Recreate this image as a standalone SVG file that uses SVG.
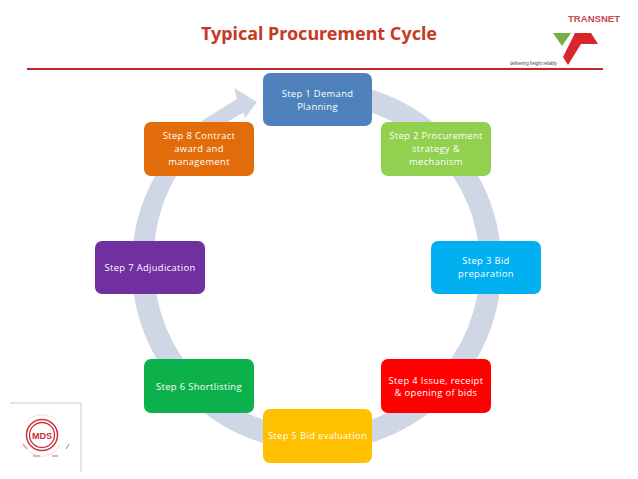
<svg xmlns="http://www.w3.org/2000/svg" width="638" height="479" viewBox="0 0 638 479">
<style>
.n{stroke:none}
.t{font-family:"Open Sans",Lato,sans-serif;font-weight:400;font-size:9.4px;fill:#fff;text-anchor:middle;letter-spacing:.35px}
.title{font-family:"Noto Sans",Arial,sans-serif;font-weight:700;font-size:17.5px;fill:#c43a24;text-anchor:middle}
</style>
<rect width="638" height="479" fill="#fff"/>
<text class="title" x="319" y="39.500" textLength="236" lengthAdjust="spacingAndGlyphs">Typical Procurement Cycle</text>
<rect x="27" y="68" width="576" height="2" fill="#c0272d"/>
<g id="transnet-logo">
<text x="568" y="22" font-family="'Liberation Sans',Arial,sans-serif" font-weight="700" font-size="9.500" fill="#c8484c" textLength="52">TRANSNET</text>
<polygon points="553,33 571,33 562,46" fill="#76b043"/>
<polygon points="575,33 591,33 598,44 581,44 568,65 563,57" fill="#d8262c"/>
<text x="510" y="65" font-family="'Liberation Sans',Arial,sans-serif" font-size="4.500" fill="#444" textLength="47">delivering freight reliably</text>
</g>
<g id="mds-logo">
<path d="M10 403H81V472" fill="none" stroke="#bbb" stroke-width=".8"/>
<circle cx="42" cy="435" r="15.500" fill="none" stroke="#c8303a" stroke-width="1.500"/>
<circle cx="42" cy="435" r="12.500" fill="none" stroke="#c8303a" stroke-width="1.300"/>
<path d="M27 421A21 21 0 0 1 57 421" fill="none" stroke="#e6c4c4" stroke-width=".6"/>
<path d="M24 445A20 20 0 0 0 60 445" fill="none" stroke="#e6c4c4" stroke-width=".6"/>
<path d="M23 444L27 449M33 456H40M52 456H58M66 449L69 444" fill="none" stroke="#dc9a9d" stroke-width="1.400"/>
<text x="42" y="438.500" text-anchor="middle" font-family="'Liberation Sans',Arial,sans-serif" font-weight="700" font-size="9" fill="#c8303a">MDS</text>
</g>
<g id="connectors">
<path id="cycle" fill="#cfd6e6" d="M317 81A185 185 0 1 1 203 120L237 99L234 88L257 102L245 118L243 110L245 112A163 163 0 0 0 154 266A163 163 0 1 0 317 103Z"/>
</g>
<g id="step1"><rect class="n" x="263" y="73" width="109" height="53" rx="7" fill="#4f81bd"/><text class="t" x="317.500" y="97">Step 1 Demand</text><text class="t" x="317.500" y="110">Planning</text></g>
<g id="step2"><rect class="n" x="381" y="122" width="110" height="54" rx="7" fill="#92d050"/><text class="t" x="436" y="139">Step 2 Procurement</text><text class="t" x="436" y="152">strategy &amp;</text><text class="t" x="436" y="165">mechanism</text></g>
<g id="step3"><rect class="n" x="431" y="241" width="110" height="53" rx="7" fill="#00b0f0"/><text class="t" x="486" y="264">Step 3 Bid</text><text class="t" x="486" y="277">preparation</text></g>
<g id="step4"><rect class="n" x="381" y="359" width="110" height="54" rx="7" fill="#ff0000"/><text class="t" x="436" y="384">Step 4 Issue, receipt</text><text class="t" x="436" y="396">&amp; opening of bids</text></g>
<g id="step5"><rect class="n" x="263" y="409" width="109" height="54" rx="7" fill="#ffc000"/><text class="t" x="317.500" y="439">Step 5 Bid evaluation</text></g>
<g id="step6"><rect class="n" x="144" y="359" width="110" height="54" rx="7" fill="#0db14b"/><text class="t" x="199" y="390">Step 6 Shortlisting</text></g>
<g id="step7"><rect class="n" x="95" y="241" width="110" height="53" rx="7" fill="#7030a0"/><text class="t" x="150" y="271">Step 7 Adjudication</text></g>
<g id="step8"><rect class="n" x="144" y="122" width="110" height="54" rx="7" fill="#e36c0a"/><text class="t" x="199" y="139">Step 8 Contract</text><text class="t" x="199" y="152">award and</text><text class="t" x="199" y="165">management</text></g>
</svg>
